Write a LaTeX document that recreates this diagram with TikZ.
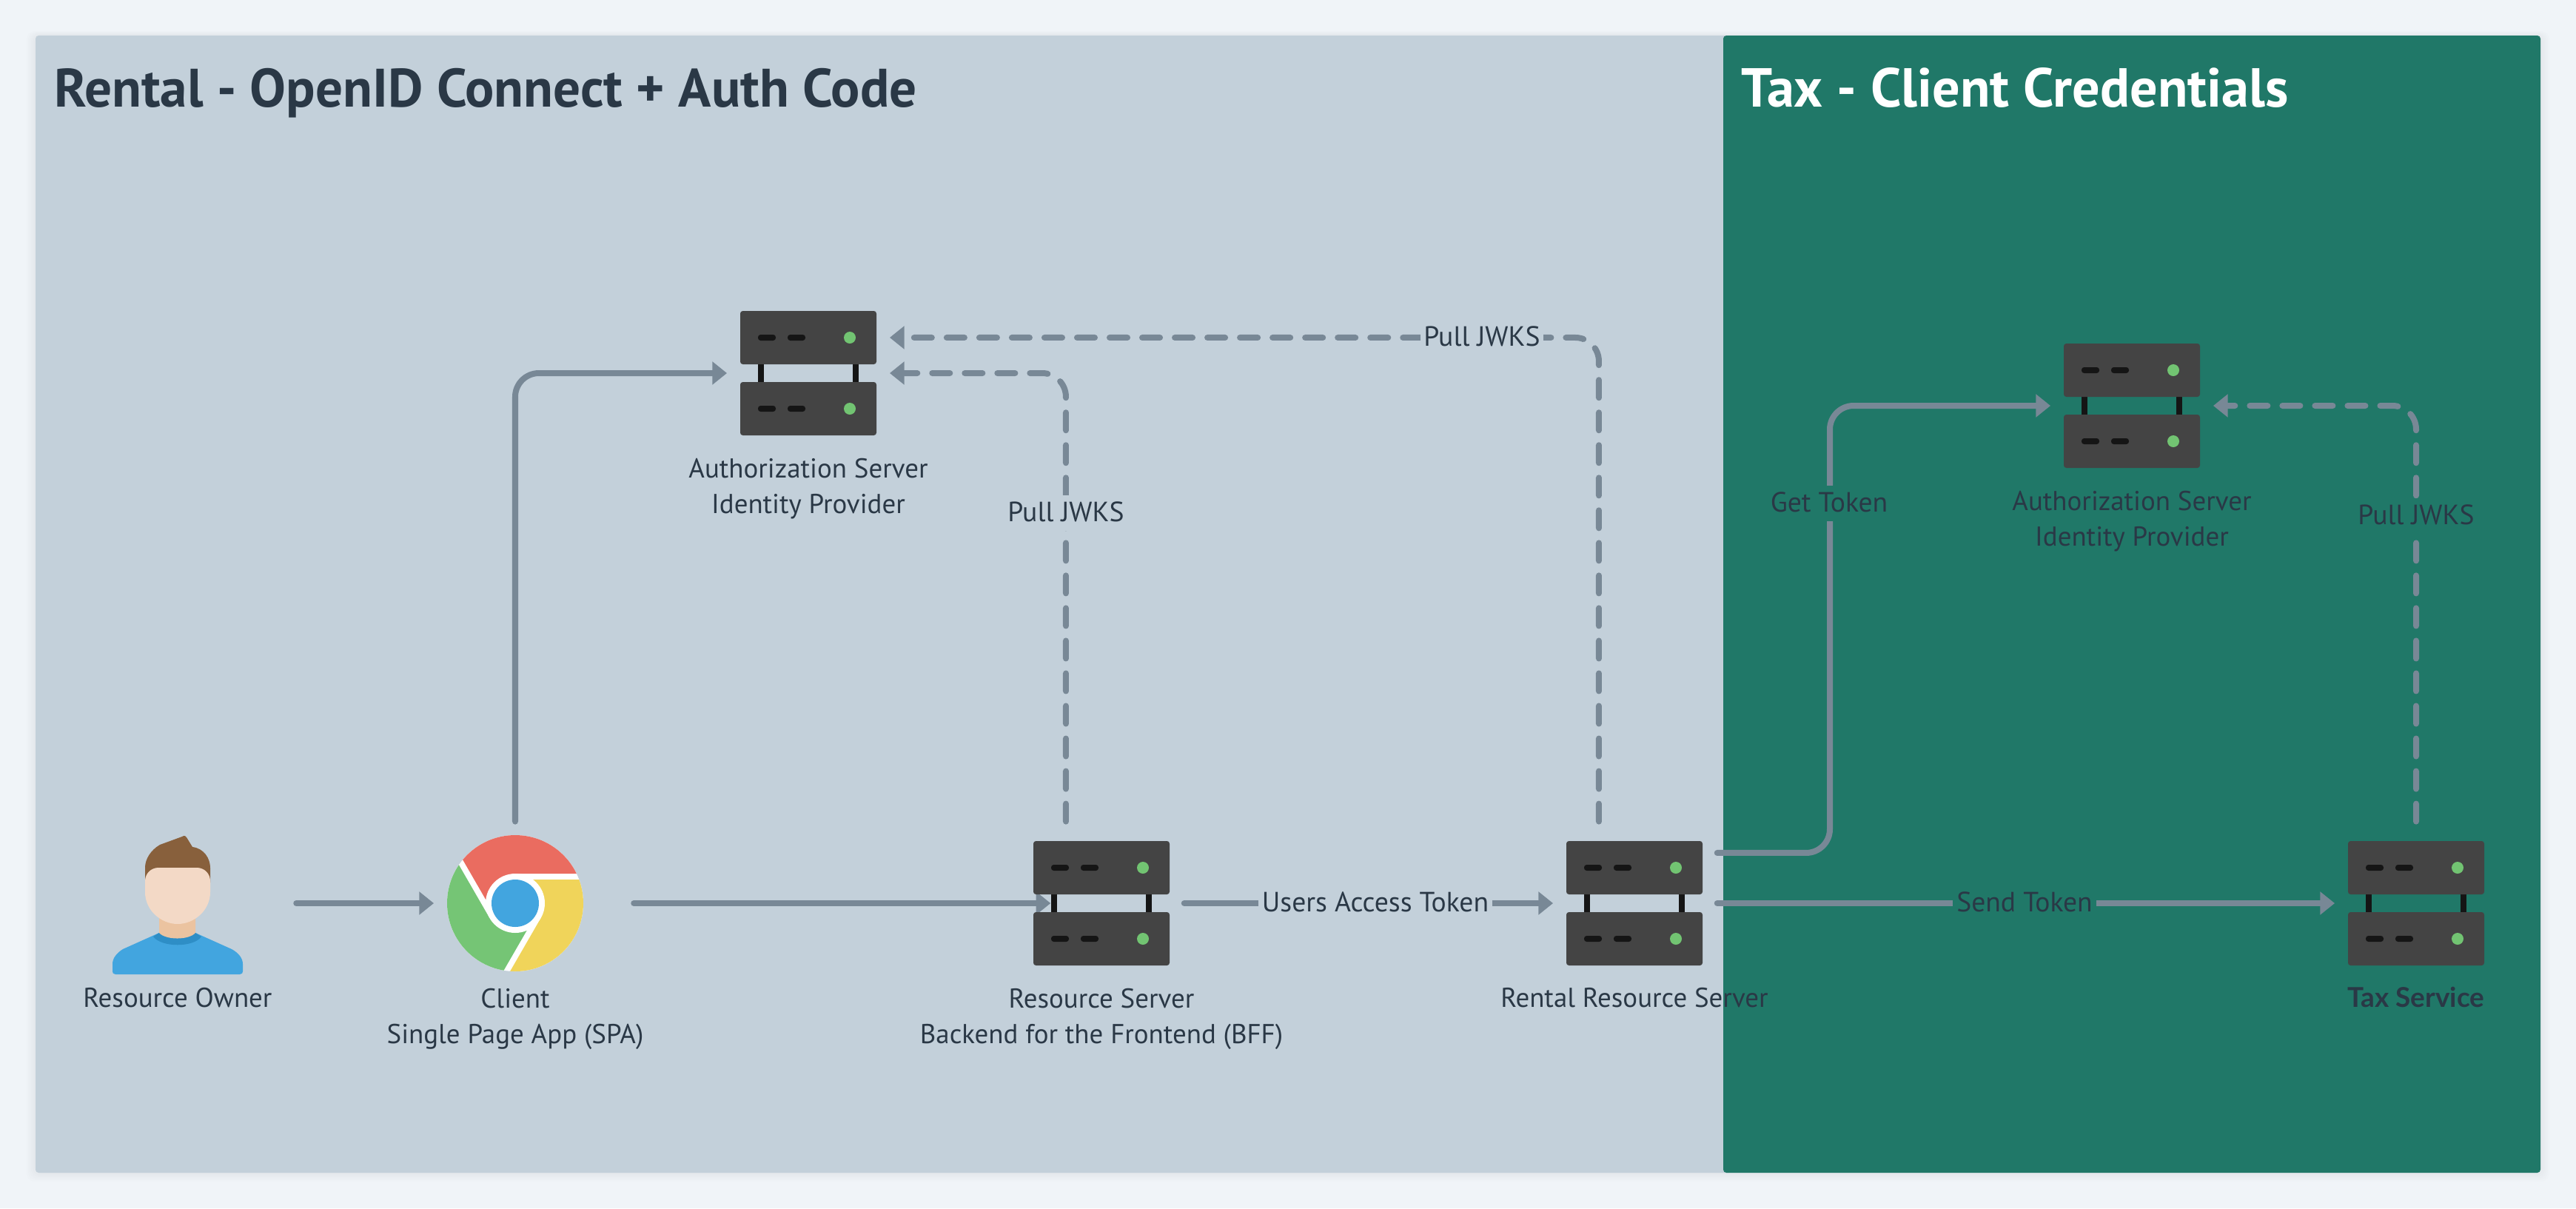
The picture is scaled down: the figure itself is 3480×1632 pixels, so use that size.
\documentclass[tikz,border=0pt]{standalone}
\usepackage{fontspec}
\setmainfont{PT Sans}
\newfontfamily\svcfont{Lato}
\usetikzlibrary{arrows.meta}

\definecolor{pagebg}{HTML}{F0F4F8}
\definecolor{rentalbg}{HTML}{C3D0DA}
\definecolor{taxbg}{HTML}{207868}
\definecolor{flowgray}{HTML}{788896}
\definecolor{labeltext}{HTML}{2A3846}
\definecolor{srvbody}{HTML}{444444}
\definecolor{srvdark}{HTML}{151515}
\definecolor{srvled}{HTML}{72C472}
\definecolor{chromered}{HTML}{EA6C60}
\definecolor{chromeyellow}{HTML}{F0D45A}
\definecolor{chromegreen}{HTML}{75C575}
\definecolor{iconblue}{HTML}{42A5DF}
\definecolor{collarblue}{HTML}{2E8EC6}
\definecolor{skin}{HTML}{F3D9C6}
\definecolor{neckskin}{HTML}{EBC3A0}
\definecolor{hair}{HTML}{88603C}

\tikzset{
    iconbox/.style={minimum width=52.35pt, minimum height=47.8pt, inner sep=0pt},
    iconlabel/.style={anchor=north, inner sep=0pt, align=center, text=labeltext,
        font=\fontsize{10.5}{13.66}\selectfont, execute at begin node={\strut}},
    flow/.style={line width=2.28pt, color=flowgray, line cap=round, rounded corners=9.1pt,
        -{Triangle[length=5.6pt,width=8.6pt]}, shorten <=5.4pt, shorten >=4.9pt},
    pullflow/.style={flow, dash pattern=on 6.83pt off 5.69pt, shorten <=7.3pt},
    flowlabel/.style={text=labeltext, font=\fontsize{10.7}{13.66}\selectfont, inner xsep=1.4pt,
        inner ysep=2.35pt, text height=8pt, text depth=1.2pt},
    titlelabel/.style={anchor=base west, inner sep=0pt, font=\fontsize{20.8}{24}\selectfont\bfseries}
}

% One server icon, two racks joined by two legs
\newcommand{\serverat}[1]{
    \begin{scope}[shift={(#1)}]
        \fill[srvdark] (-68,-12) rectangle (-60,12);
        \fill[srvdark] (60,-12) rectangle (68,12);
        \foreach \rack in {-48,48} {
            \fill[srvbody, rounded corners=1pt] (-92,\rack-36) rectangle (92,\rack+36);
            \fill[srvdark, rounded corners=1pt] (-68,\rack-4) rectangle (-44,\rack+4);
            \fill[srvdark, rounded corners=1pt] (-28,\rack-4) rectangle (-4,\rack+4);
            \fill[srvled] (56,\rack) circle (8);
        }
    \end{scope}
}

\begin{document}
\begin{tikzpicture}[x=0.01cm, y=-0.01cm]

    % Page and the two panels
    \fill[pagebg] (0,0) rectangle (3480,1632);
    \foreach \s in {2,4,...,12} {
        \fill[black, opacity=0.006, rounded corners=3pt] (48-\s,48-\s/2) rectangle (3432+\s,1584+\s);
    }
    \fill[rentalbg, rounded corners=1.2pt] (48,48) rectangle (2340,1584);
    \fill[taxbg, rounded corners=1.2pt] (2328,48) rectangle (3432,1584);

    \node[titlelabel, text=labeltext] (rentalTitle) at (73,144) {Rental - OpenID Connect + Auth Code};
    \node[titlelabel, text=white, font=\fontsize{21.1}{24}\selectfont\bfseries] (taxTitle) at (2352,144) {Tax - Client Credentials};

    % Places of the icons, drawn further down
    \node[iconbox] (owner) at (240,1220) {};
    \node[iconbox] (client) at (696,1220) {};
    \node[iconbox] (resSrv) at (1488,1220) {};
    \node[iconbox] (rentalSrv) at (2208,1220) {};
    \node[iconbox] (taxSrv) at (3264,1220) {};
    \node[iconbox] (authSrv) at (1092,504) {};
    \node[iconbox] (taxAuth) at (2880,548) {};
    \coordinate (getTokenBend) at (2472,800);

    % Solid connectors
    \draw[flow, shorten <=19.2pt] (owner) -- (client);
    \draw[flow, shorten <=7.3pt] (client.north) |- (authSrv.west);
    \draw[flow, shorten <=19.2pt, shorten >=-6.83pt] (client) -- (resSrv);
    \draw[flow] (resSrv) -- (rentalSrv);
    \draw[flow] (rentalSrv) -- (taxSrv);
    \draw[flow] ([yshift=19.35pt]rentalSrv.east) -| (getTokenBend) |- (taxAuth.west);

    % Dashed connectors
    \draw[pullflow] ([xshift=-13.66pt]resSrv.north) |- (authSrv.east);
    \draw[pullflow] ([xshift=-13.66pt]rentalSrv.north) |- ([yshift=13.66pt]authSrv.east);
    \draw[pullflow] (taxSrv.north) |- (taxAuth.east);

    % Labels on the connectors
    \node[flowlabel, fill=rentalbg] (usersToken) at (1858,1220) {Users Access Token};
    \node[flowlabel, fill=taxbg] (sendToken) at (2735,1220) {Send Token};
    \node[flowlabel, fill=taxbg] (getToken) at (2471,680) {Get Token};
    \node[flowlabel, fill=rentalbg] (pullRes) at (1440,693) {Pull JWKS};
    \node[flowlabel, fill=rentalbg] (pullRental) at (2002,456) {Pull JWKS};
    \node[flowlabel, fill=taxbg] (pullTax) at (3264,697) {Pull JWKS};

    % Server icons
    \serverat{resSrv}
    \serverat{rentalSrv}
    \serverat{taxSrv}
    \serverat{authSrv}
    \serverat{taxAuth}

    % Resource owner icon
    \fill[iconblue] (156,1316) .. controls (153,1316) and (152,1314) .. (152,1312) -- (152,1302)
        .. controls (152,1294) and (158,1287) .. (166,1282) -- (215,1260) -- (264,1260) -- (313,1282)
        .. controls (322,1287) and (328,1294) .. (328,1302) -- (328,1312)
        .. controls (328,1314) and (327,1316) .. (324,1316) -- cycle;
    \fill[collarblue] (207,1265) -- (215,1260) -- (264,1260) -- (272,1265)
        .. controls (262,1280) and (218,1280) .. (207,1265) -- cycle;
    \fill[neckskin] (215,1235) -- (264,1235) -- (264,1260) .. controls (255,1270) and (224,1270) .. (215,1260) -- cycle;
    \fill[hair] (196,1192) -- (196,1172) .. controls (196,1160) and (204,1148) .. (216,1141)
        -- (246,1130) .. controls (249,1128) and (251,1129) .. (252,1131) -- (260,1144)
        .. controls (276,1146) and (284,1160) .. (284,1172) -- (284,1192) -- cycle;
    \fill[skin] (196,1190) .. controls (196,1180) and (204,1172) .. (214,1172) -- (266,1172)
        .. controls (276,1172) and (284,1180) .. (284,1190) -- (284,1205)
        .. controls (284,1230) and (262,1248) .. (240,1248)
        .. controls (218,1248) and (196,1230) .. (196,1205) -- cycle;

    % Chrome icon
    \fill[white] (696,1220) circle (92);
    \begin{scope}
        \clip (696,1220) circle (92);
        \foreach \turn/\col in {0/chromered,-120/chromeyellow,-240/chromegreen} {
            \fill[\col, rotate around={\turn:(696,1220)}] (696,1220) -- (696,1180) -- (900,1180)
                -- (900,976) -- (518.3,976) -- (668.3,1236) -- cycle;
        }
    \end{scope}
    \fill[white] (696,1220) circle (40);
    \fill[iconblue] (696,1220) circle (32);

    % Labels under the icons
    \node[iconlabel] (ownerLabel) at ([yshift=-6pt]owner.south) {Resource Owner};
    \node[iconlabel] (clientLabel) at ([yshift=-8.4pt]client.south) {Client\\Single Page App (SPA)};
    \node[iconlabel] (resLabel) at ([yshift=-8.4pt]resSrv.south) {Resource Server\\Backend for the Frontend (BFF)};
    \node[iconlabel] (rentalLabel) at ([yshift=-6pt]rentalSrv.south) {Rental Resource Server};
    \node[iconlabel, font=\fontsize{10.5}{13.66}\selectfont\svcfont\bfseries] (taxLabel) at ([yshift=-6pt]taxSrv.south) {Tax Service};
    \node[iconlabel] (authLabel) at ([yshift=-8.4pt]authSrv.south) {Authorization Server\\Identity Provider};
    \node[iconlabel] (taxAuthLabel) at ([yshift=-8.4pt]taxAuth.south) {Authorization Server\\Identity Provider};

\end{tikzpicture}
\end{document}
